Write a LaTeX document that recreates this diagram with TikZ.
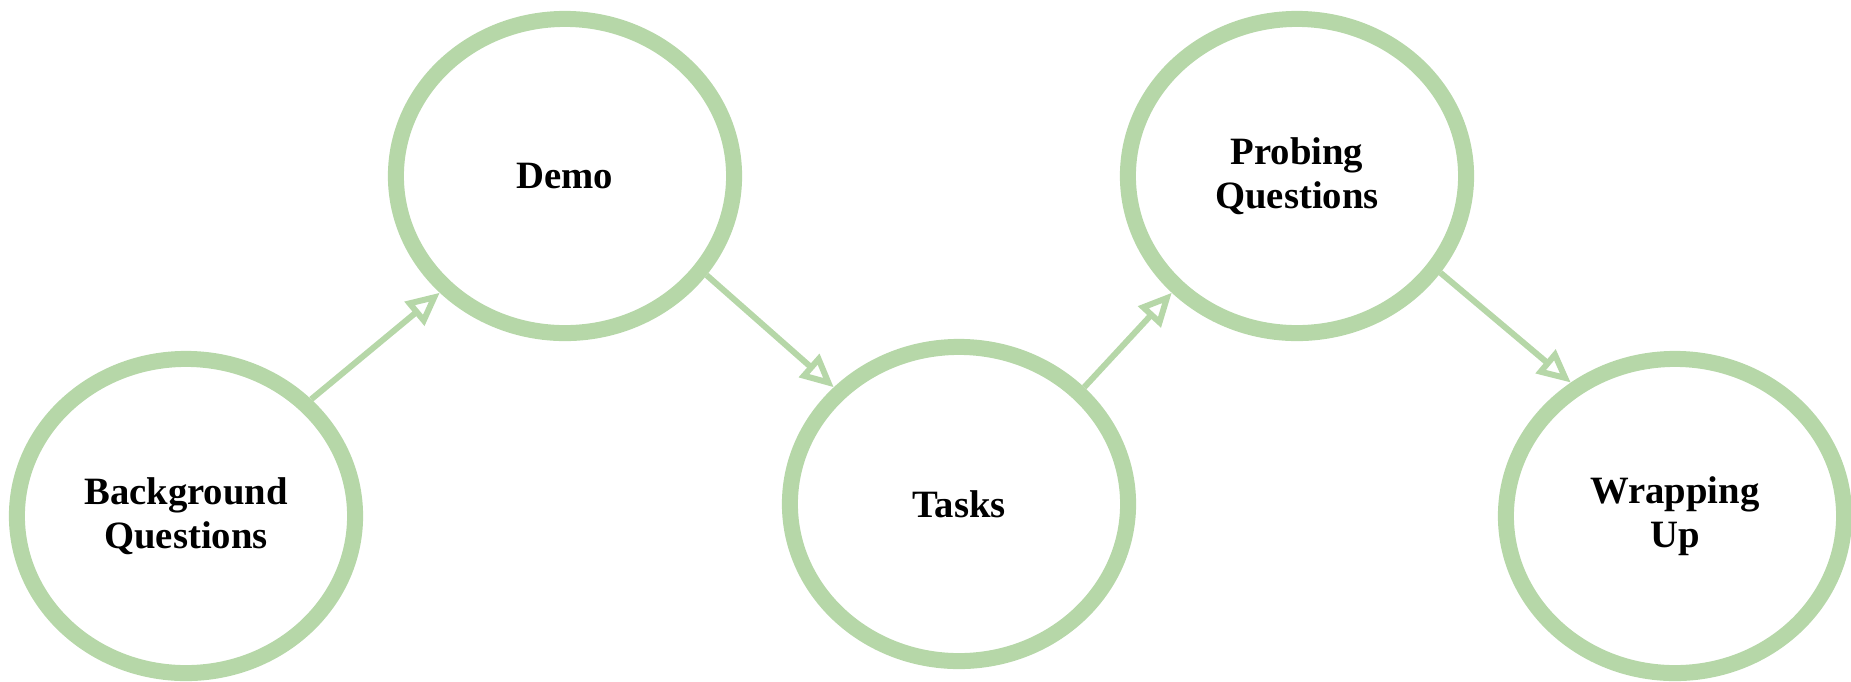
\documentclass[tikz,border=0pt]{standalone}
\usepackage{fontspec}
\setmainfont{Liberation Serif}
\usetikzlibrary{arrows.meta, shapes.geometric}
\definecolor{stagegreen}{HTML}{B6D7A8}

\begin{document}
\begin{tikzpicture}[
        x=0.01cm, y=-0.01cm,
        stage/.style={draw=stagegreen, line width=0.16cm, ellipse, minimum width=3.38cm, minimum height=3.14cm, align=center, font=\fontsize{11}{12.4}\selectfont\bfseries},
        flow/.style={draw=stagegreen, line width=0.06cm, -{Triangle[open, length=0.33cm, width=0.3cm]}}
    ]
    \useasboundingbox (0,0) rectangle (1851,681);
    \node[stage] (background) at (186,516) {Background\\Questions};
    \node[stage] (demo) at (565,176) {Demo};
    \node[stage] (tasks) at (959,504) {Tasks};
    \node[stage] (probing) at (1297,176) {Probing\\Questions};
    \node[stage] (wrapup) at (1675,516) {Wrapping\\Up};
    \draw[flow] (background.north east) -- (demo.south west);
    \draw[flow] (demo.-35) -- (tasks.north west);
    \draw[flow] (tasks.north east) -- (probing.south west);
    \draw[flow] (probing.-34) -- (wrapup.128);
\end{tikzpicture}
\end{document}
